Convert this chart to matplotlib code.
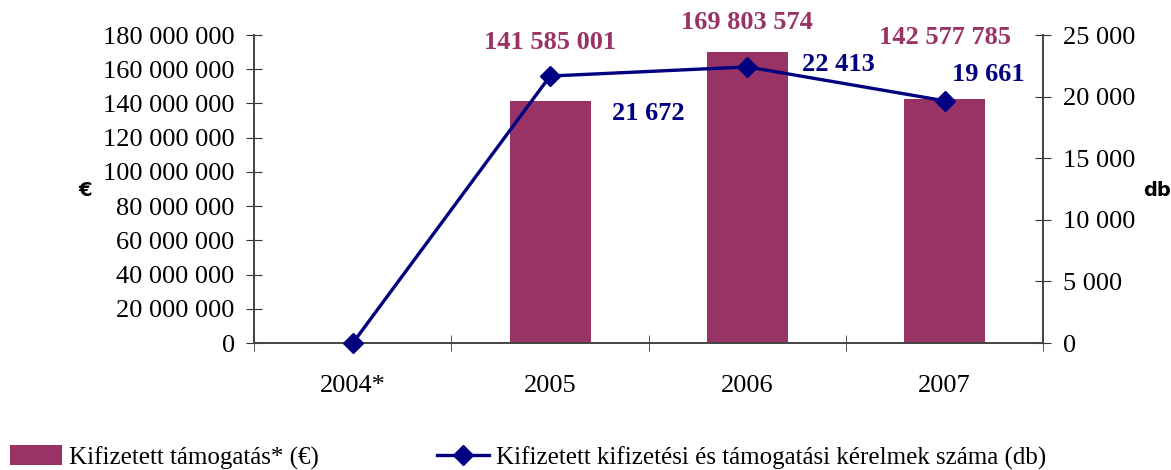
#!/usr/bin/env python3
import matplotlib
matplotlib.use('Agg')
import matplotlib.pyplot as plt
import numpy as np
from matplotlib.lines import Line2D
from matplotlib.patches import Patch

# DATA
years = ['2004*', '2005', '2006', '2007']
payments_eur = [0, 141585001, 169803574, 142577785]
requests_db = [0, 21672, 22413, 19661]
left_ticks = np.arange(0, 180000001, 20000000)
right_ticks = np.arange(0, 25001, 5000)

BAR_COLOR = '#993366'
LINE_COLOR = '#000080'
SERIF = 'Liberation Serif'


def fmt_space(v):
    return f'{int(v):,}'.replace(',', ' ')


fig = plt.figure(figsize=(11.71, 4.70), dpi=100)
ax = fig.add_axes([0.217, 0.27, 0.674, 0.6555])
ax2 = ax.twinx()

x = np.arange(len(years))
ax.bar(x[1:], payments_eur[1:], width=0.41, color=BAR_COLOR, zorder=2)
ax2.plot(x, requests_db, color=LINE_COLOR, linewidth=2.4, marker='D',
         markersize=10, zorder=3, clip_on=False)

ax.set_xlim(-0.5, 3.5)
ax.set_ylim(0, 180000000)
ax2.set_ylim(0, 25000)

ax.set_yticks(left_ticks)
ax.set_yticklabels([fmt_space(v) for v in left_ticks], fontsize=19, family=SERIF)
ax2.set_yticks(right_ticks)
ax2.set_yticklabels([fmt_space(v) for v in right_ticks], fontsize=19, family=SERIF)

ax.set_xticks(x)
ax.set_xticklabels(years, fontsize=19, family=SERIF)
ax.set_xticks(np.arange(-0.5, 3.6, 1.0), minor=True)
ax.tick_params(axis='x', which='major', length=0, pad=23)
ax.tick_params(axis='x', which='minor', direction='inout', length=12, color='#333333')
ax.tick_params(axis='y', direction='inout', length=12, color='#333333', pad=8)
ax2.tick_params(axis='y', direction='inout', length=12, color='#333333', pad=8)

for a in (ax, ax2):
    a.spines['top'].set_visible(False)
    for s in ('left', 'right', 'bottom'):
        a.spines[s].set_color('#444444')
        a.spines[s].set_linewidth(1.2)

# value labels
bar_label_pos = {1: (0, 169200000), 2: (0, 180800000), 3: (0, 171750000)}
for i, (dx, yv) in bar_label_pos.items():
    ax.text(x[i] + dx, yv, fmt_space(payments_eur[i]), ha='center', va='bottom',
            fontsize=19, fontweight='bold', color=BAR_COLOR, family=SERIF, clip_on=False)

line_label_pos = {1: (0.5, 17674), 2: (0.46, 21650), 3: (0.22, 20836)}
for i, (dx, yv) in line_label_pos.items():
    ax2.text(x[i] + dx, yv, fmt_space(requests_db[i]), ha='center', va='bottom',
             fontsize=19, fontweight='bold', color=LINE_COLOR, family=SERIF)

fig.text(0.073, 0.595, '€', fontsize=14, fontweight='bold', ha='center', va='center')
fig.text(0.988, 0.595, 'db', fontsize=14, fontweight='bold', ha='center', va='center')

handles = [Patch(facecolor=BAR_COLOR, edgecolor='none'),
           Line2D([0], [0], color=LINE_COLOR, linewidth=2.4, marker='D', markersize=10)]
labels = ['Kifizetett támogatás* (€)',
          'Kifizetett kifizetési és támogatási kérelmek száma (db)']
fig.legend(handles, labels, loc='lower left', bbox_to_anchor=(0.0085, 0.001), ncol=2,
           frameon=False, prop={'family': SERIF, 'size': 18}, handlelength=2.1,
           handletextpad=0.28, columnspacing=4.7, handleheight=0.85,
           borderpad=0, borderaxespad=0)

fig.savefig('out.png', dpi=100)
